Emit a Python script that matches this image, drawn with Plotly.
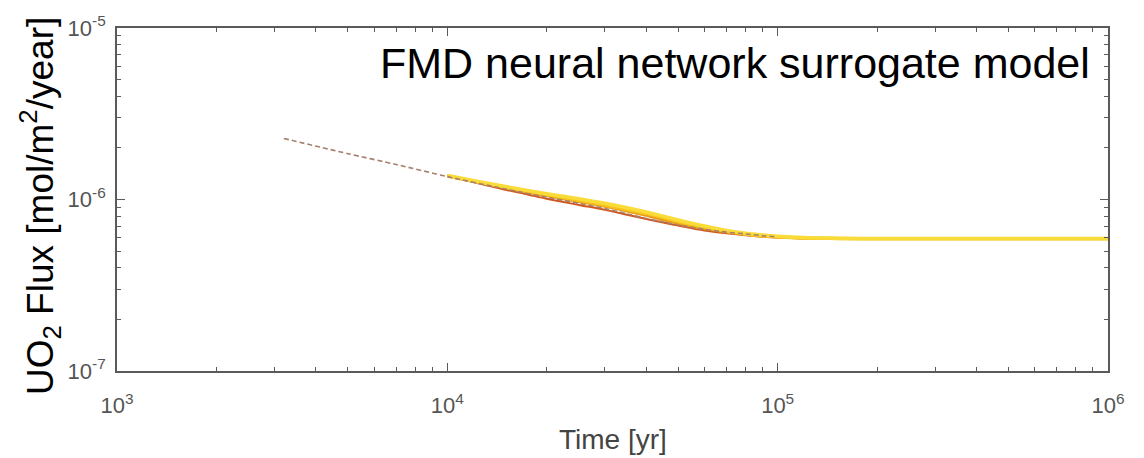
import plotly.graph_objects as go

# Reference (dashed) curve
t_ref = [3200, 5000, 7000, 10000, 15000, 20000, 25000, 30000, 35000, 40000, 50000,
         60000, 70000, 80000, 90000, 100000]
f_ref = [2.27e-6, 1.85e-6, 1.60e-6, 1.36e-6, 1.15e-6, 1.03e-6, 9.5e-7, 8.85e-7, 8.25e-7,
         7.75e-7, 7.1e-7, 6.7e-7, 6.45e-7, 6.3e-7, 6.15e-7, 6.05e-7]

# Surrogate ensemble curves
t_sur = [10000, 12500, 15000, 17500, 20000, 25000, 30000, 35000, 40000, 45000, 50000,
         60000, 70000, 80000, 90000, 100000, 120000, 150000, 200000, 400000, 700000, 1000000]
f_red = [1.37e-6, 1.24e-6, 1.14e-6, 1.07e-6, 1.01e-6, 9.3e-7, 8.7e-7, 8.15e-7, 7.7e-7, 7.35e-7,
         7.05e-7, 6.6e-7, 6.35e-7, 6.18e-7, 6.07e-7, 6.0e-7, 5.93e-7, 5.9e-7, 5.88e-7, 5.88e-7,
         5.88e-7, 5.88e-7]
f_orange = [1.38e-6, 1.26e-6, 1.17e-6, 1.1e-6, 1.05e-6, 9.7e-7, 9.1e-7, 8.55e-7, 8.05e-7, 7.6e-7,
            7.25e-7, 6.75e-7, 6.45e-7, 6.25e-7, 6.1e-7, 6.03e-7, 5.95e-7, 5.92e-7, 5.9e-7, 5.9e-7,
            5.9e-7, 5.9e-7]
f_yellow2 = [1.37e-6, 1.26e-6, 1.18e-6, 1.12e-6, 1.07e-6, 9.9e-7, 9.3e-7, 8.75e-7, 8.3e-7, 7.85e-7,
             7.45e-7, 6.9e-7, 6.55e-7, 6.3e-7, 6.15e-7, 6.06e-7, 5.97e-7, 5.93e-7, 5.9e-7, 5.9e-7,
             5.9e-7, 5.9e-7]
f_yellow1 = [1.38e-6, 1.27e-6, 1.19e-6, 1.13e-6, 1.08e-6, 1.01e-6, 9.5e-7, 8.95e-7, 8.45e-7, 8.0e-7,
             7.6e-7, 7.0e-7, 6.6e-7, 6.35e-7, 6.2e-7, 6.1e-7, 6.0e-7, 5.95e-7, 5.92e-7, 5.92e-7,
             5.92e-7, 5.92e-7]

x_tickvals = [1e3, 1e4, 1e5, 1e6]
x_ticktext = ["10<sup>3</sup>", "10<sup>4</sup>", "10<sup>5</sup>", "10<sup>6</sup>"]
y_tickvals = [1e-7, 1e-6, 1e-5]
y_ticktext = ["10<sup>-7</sup>", "10<sup>-6</sup>", "10<sup>-5</sup>"]

x_minor = [m * d for d in (1e3, 1e4, 1e5) for m in range(2, 10)]
y_minor = [m * d for d in (1e-7, 1e-6) for m in range(2, 10)]

fig = go.Figure()
fig.add_trace(go.Scatter(x=t_sur, y=f_red, mode="lines",
                         line=dict(color="#d2561c", width=2, shape="spline", smoothing=0.8),
                         showlegend=False))
fig.add_trace(go.Scatter(x=t_sur, y=f_orange, mode="lines",
                         line=dict(color="#ec9a1c", width=2.5, shape="spline", smoothing=0.8),
                         showlegend=False))
fig.add_trace(go.Scatter(x=t_sur, y=f_yellow2, mode="lines",
                         line=dict(color="#f6c51a", width=3.5, shape="spline", smoothing=0.8),
                         showlegend=False))
fig.add_trace(go.Scatter(x=t_sur, y=f_yellow1, mode="lines",
                         line=dict(color="#f9dc3a", width=3.5, shape="spline", smoothing=0.8),
                         showlegend=False))
fig.add_trace(go.Scatter(x=t_ref, y=f_ref, mode="lines",
                         line=dict(color="#a5806c", width=1.6, dash="5px,3px",
                                   shape="spline", smoothing=0.8),
                         showlegend=False))

axis_common = dict(
    type="log", showgrid=False, zeroline=False,
    showline=True, linecolor="#5a5a5a", linewidth=1.8, mirror="ticks",
    ticks="inside", ticklen=8, tickwidth=1.2, tickcolor="#5a5a5a",
    tickfont=dict(family="Liberation Sans, Arial", size=22, color="#555555"),
)

fig.update_layout(
    width=1144, height=458,
    margin=dict(l=117, r=36, t=23, b=87),
    paper_bgcolor="white", plot_bgcolor="white",
    xaxis=dict(range=[3, 6], tickmode="array", tickvals=x_tickvals, ticktext=x_ticktext,
               ticklabelstandoff=14,
               minor=dict(tickmode="array", tickvals=x_minor, ticks="inside", ticklen=4,
                          tickwidth=1, tickcolor="#5a5a5a", showgrid=False),
               **axis_common),
    yaxis=dict(range=[-7, -5], tickmode="array", tickvals=y_tickvals, ticktext=y_ticktext,
               ticklabelstandoff=5,
               minor=dict(tickmode="array", tickvals=y_minor, ticks="inside", ticklen=4,
                          tickwidth=1, tickcolor="#5a5a5a", showgrid=False),
               **axis_common),
    annotations=[
        dict(text="FMD neural network surrogate model", xref="paper", yref="paper",
             x=0.984, y=0.898, xanchor="right", yanchor="middle", showarrow=False,
             font=dict(family="Liberation Sans, Arial", size=43, color="black")),
        dict(text="UO<sub>2</sub> Flux [mol/m<sup>2</sup>/year]", xref="paper", yref="paper",
             x=-0.078, y=0.48, xanchor="center", yanchor="middle", textangle=-90,
             showarrow=False,
             font=dict(family="Liberation Sans, Arial", size=37, color="black")),
        dict(text="Time [yr]", xref="paper", yref="paper",
             x=0.5, y=-0.2, xanchor="center", yanchor="middle", showarrow=False,
             font=dict(family="Liberation Sans, Arial", size=28, color="#444444")),
    ],
)

fig.write_html("out.html")
